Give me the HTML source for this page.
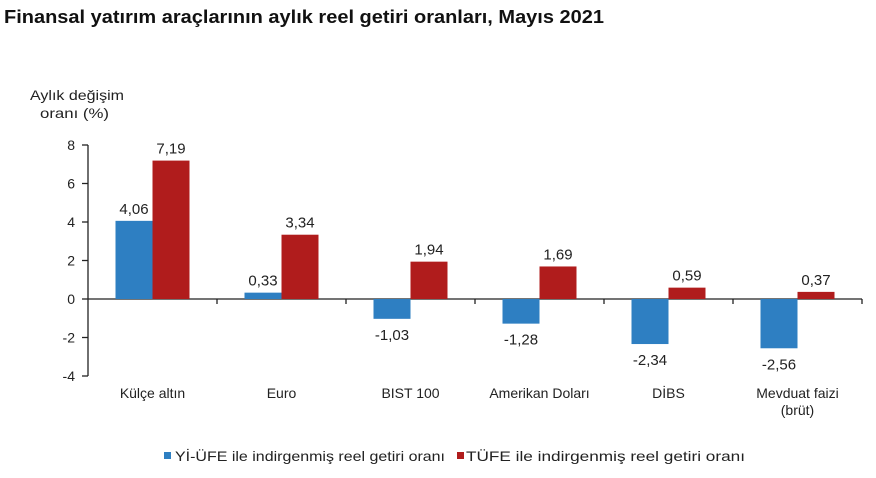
<!DOCTYPE html>
<html><head><meta charset="utf-8"><style>
body{margin:0;background:#fff;}
svg text{font-family:"Liberation Sans",Arial,sans-serif;}
</style></head><body>
<svg width="876" height="473" viewBox="0 0 876 473" xmlns="http://www.w3.org/2000/svg">
<text x="4" y="23" font-size="18" font-weight="bold" fill="#111" textLength="600" lengthAdjust="spacingAndGlyphs">Finansal yatırım araçlarının aylık reel getiri oranları, Mayıs 2021</text>
<text x="30" y="100" font-size="14" fill="#222" textLength="94" lengthAdjust="spacingAndGlyphs">Aylık değişim</text>
<text x="40" y="118" font-size="14" fill="#222" textLength="69" lengthAdjust="spacingAndGlyphs">oranı (%)</text>
<g id="axes"></g>
<g id="bars"></g>
<g>
<rect x="164" y="452" width="7" height="7" fill="#2e7fc2"/>
<text x="175" y="461" font-size="14" fill="#222" textLength="270" lengthAdjust="spacingAndGlyphs">Yİ-ÜFE ile indirgenmiş reel getiri oranı</text>
<rect x="457" y="452" width="7" height="7" fill="#b01c1c"/>
<text x="466" y="461" font-size="14" fill="#222" textLength="279" lengthAdjust="spacingAndGlyphs">TÜFE ile indirgenmiş reel getiri oranı</text>
</g>
</svg>
<script>
const categories=["Külçe altın","Euro","BIST 100","Amerikan Doları","DİBS","Mevduat faizi|(brüt)"];
const yiufe=[4.06,0.33,-1.03,-1.28,-2.34,-2.56];
const tufe=[7.19,3.34,1.94,1.69,0.59,0.37];
const yTicks=[8,6,4,2,0,-2,-4];
const NS="http://www.w3.org/2000/svg";
const x0=88,catW=129,yZero=299,pxPerUnit=19.25,barW=37;
function y(v){return yZero-v*pxPerUnit;}
function el(t,a,p){const e=document.createElementNS(NS,t);for(const k in a)e.setAttribute(k,a[k]);p.appendChild(e);return e;}
const ax=document.getElementById('axes'),bg=document.getElementById('bars');
const yl=el('line',{x1:x0,x2:x0,y1:y(8),y2:y(-4),stroke:'#222','stroke-width':1.3},ax);


yTicks.forEach(t=>{
 const l=el('line',{x1:x0-6,x2:x0,y1:y(t),y2:y(t),stroke:'#222','stroke-width':1.3},ax);
 
 
 const tx=el('text',{x:x0-13,y:y(t)+5,'font-size':14,'text-anchor':'end',fill:'#222'},ax);
 tx.textContent=String(t);
 
 
});
const n=categories.length;
const xl=el('line',{x1:x0,x2:x0+n*catW,y1:yZero,y2:yZero,stroke:'#222','stroke-width':1.3},ax);


function fmt(v){return v.toFixed(2).replace('.',',');}
categories.forEach((c,i)=>{
 const cx=x0+catW*(i+0.5);
 const tk=el('line',{x1:x0+catW*(i+1),x2:x0+catW*(i+1),y1:yZero,y2:yZero+5,stroke:'#222','stroke-width':1.3},ax);
 
 
 c.split('|').forEach((ln,j)=>{
  const t=el('text',{x:cx,y:398+j*17,'font-size':14,'text-anchor':'middle',fill:'#222'},ax);
  t.textContent=ln;
  
  
 });
 [[yiufe[i],'#2e7fc2',cx-barW],[tufe[i],'#b01c1c',cx]].forEach(([v,col,bx],k)=>{
  const r=el('rect',{x:bx,y:Math.min(y(v),yZero),width:barW,height:Math.abs(y(v)-yZero),fill:col},bg);
  
  
  const ly=v>=0?y(v)-7:y(v)+21;
  const t=el('text',{x:bx+barW/2,y:ly,'font-size':15,'text-anchor':'middle',fill:'#222'},bg);
  t.textContent=fmt(v);
  
  
 });
});
</script>
</body></html>
